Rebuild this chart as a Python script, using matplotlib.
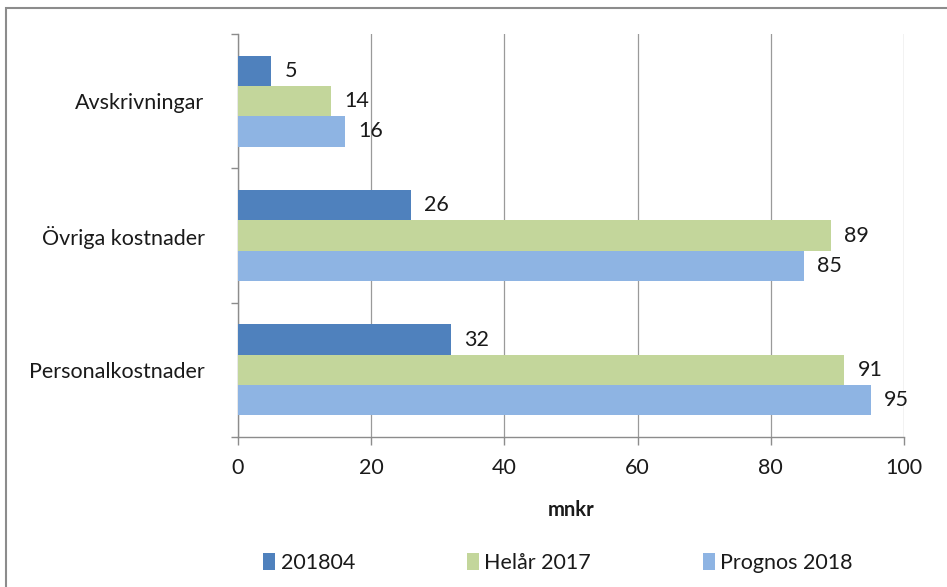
import matplotlib
matplotlib.use("Agg")
import matplotlib.pyplot as plt
from matplotlib.patches import Rectangle
import numpy as np

plt.rcParams['font.family'] = ['Lato', 'DejaVu Sans']

categories = ["Personalkostnader", "Övriga kostnader", "Avskrivningar"]
series_names = ["201804", "Helår 2017", "Prognos 2018"]
v_201804 = [32, 26, 5]
v_helar2017 = [91, 89, 14]
v_prognos2018 = [95, 85, 16]
colors = ["#4F81BD", "#C3D69B", "#8EB4E3"]
xticks = [0, 20, 40, 60, 80, 100]

W, H = 947, 587
FS = 15.5
TXT = '#1a1a1a'
fig = plt.figure(figsize=(W/100, H/100), dpi=100)
ax = fig.add_axes([238/W, 1-437/H, (904-238)/W, (437-34)/H])

y = np.arange(len(categories))
bh = 0.225
offsets = [bh, 0, -bh]
for vals, off, col, name in zip([v_201804, v_helar2017, v_prognos2018], offsets, colors, series_names):
    bars = ax.barh(y + off, vals, height=bh, color=col, label=name, zorder=3)
    for b, v in zip(bars, vals):
        ax.text(v + 2.0, b.get_y() + b.get_height()/2, str(v), va='center', ha='left',
                fontsize=FS, color=TXT)

ax.set_xlim(0, 100)
ax.set_ylim(-0.5, 2.5)
ax.set_xticks(xticks)
ax.set_xticklabels([str(t) for t in xticks], fontsize=FS, color=TXT)
ax.set_yticks(y)
ax.set_yticklabels(categories, fontsize=FS, color=TXT)
ax.set_yticks(np.arange(-0.5, 2.6, 1), minor=True)
ax.tick_params(axis='y', which='major', length=0, pad=24)
ax.tick_params(axis='y', which='minor', length=5, color='#8c8c8c', width=1)
ax.tick_params(axis='x', which='major', length=6, color='#8c8c8c', width=1, pad=9)
ax.grid(axis='x', color='#9a9a9a', linewidth=0.9, zorder=0)
for s in ['top', 'right']:
    ax.spines[s].set_visible(False)
for s in ['left', 'bottom']:
    ax.spines[s].set_color('#8c8c8c')
    ax.spines[s].set_linewidth(1)
ax.set_xlabel("mnkr", fontsize=14.5, fontweight='bold', labelpad=16, color=TXT)

leg = fig.legend(loc='center', bbox_to_anchor=(558/W, 1-563/H), ncol=3, frameon=False,
                 fontsize=FS, handlelength=0.55, handleheight=0.8, columnspacing=5.2, handletextpad=0.25)
for t in leg.get_texts():
    t.set_color(TXT)

fig.add_artist(Rectangle((5.5/W, -0.1), 2, 1.1 - 7.5/H, transform=fig.transFigure,
                         fill=False, edgecolor='#8c8c8c', linewidth=1.5))

fig.savefig("out.png", dpi=100)
